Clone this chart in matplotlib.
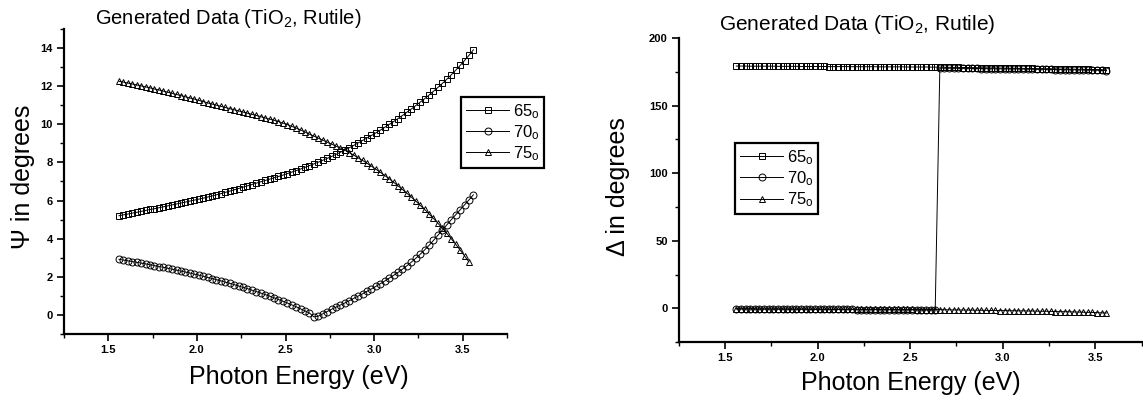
import matplotlib
matplotlib.use("Agg")
import matplotlib.pyplot as plt
from matplotlib.ticker import MultipleLocator

plt.rcParams['font.family'] = ['Liberation Sans', 'DejaVu Sans']
plt.rcParams['mathtext.fontset'] = 'custom'
plt.rcParams['mathtext.rm'] = 'Liberation Sans'
plt.rcParams['mathtext.it'] = 'Liberation Sans:italic'

# photon energy grid (eV)
energy = [1.560, 1.585, 1.610, 1.635, 1.660, 1.685, 1.710, 1.735, 1.760, 1.785,
          1.810, 1.835, 1.860, 1.885, 1.910, 1.935, 1.960, 1.985, 2.010, 2.035,
          2.060, 2.085, 2.110, 2.135, 2.160, 2.185, 2.210, 2.235, 2.260, 2.285,
          2.310, 2.335, 2.360, 2.385, 2.410, 2.435, 2.460, 2.485, 2.510, 2.535,
          2.560, 2.585, 2.610, 2.635, 2.660, 2.685, 2.710, 2.735, 2.760, 2.785,
          2.810, 2.835, 2.860, 2.885, 2.910, 2.935, 2.960, 2.985, 3.010, 3.035,
          3.060, 3.085, 3.110, 3.135, 3.160, 3.185, 3.210, 3.235, 3.260, 3.285,
          3.310, 3.335, 3.360, 3.385, 3.410, 3.435, 3.460, 3.485, 3.510, 3.535,
          3.560]

psi65 = [5.20, 5.25, 5.29, 5.34, 5.38, 5.43, 5.48, 5.53, 5.57, 5.62,
         5.67, 5.72, 5.77, 5.82, 5.87, 5.92, 5.97, 6.02, 6.07, 6.12,
         6.18, 6.24, 6.30, 6.36, 6.43, 6.49, 6.56, 6.63, 6.70, 6.77,
         6.84, 6.91, 6.98, 7.05, 7.12, 7.19, 7.26, 7.33, 7.41, 7.49,
         7.57, 7.65, 7.74, 7.83, 7.92, 8.01, 8.11, 8.21, 8.31, 8.42,
         8.53, 8.65, 8.77, 8.89, 9.02, 9.15, 9.28, 9.41, 9.55, 9.69,
         9.84, 9.99, 10.14, 10.30, 10.46, 10.63, 10.80, 10.98, 11.16, 11.34,
         11.53, 11.73, 11.93, 12.14, 12.36, 12.59, 12.83, 13.08, 13.34, 13.61,
         13.90]

psi70 = [2.92, 2.88, 2.84, 2.80, 2.76, 2.72, 2.68, 2.63, 2.59, 2.54,
         2.50, 2.45, 2.40, 2.35, 2.30, 2.25, 2.20, 2.14, 2.09, 2.03,
         1.97, 1.91, 1.85, 1.79, 1.72, 1.66, 1.59, 1.52, 1.45, 1.38,
         1.30, 1.23, 1.15, 1.07, 0.99, 0.90, 0.81, 0.72, 0.63, 0.53,
         0.43, 0.32, 0.21, 0.10, -0.10, -0.06, 0.06, 0.18, 0.30, 0.41,
         0.52, 0.63, 0.75, 0.87, 0.99, 1.11, 1.24, 1.37, 1.50, 1.64,
         1.78, 1.93, 2.08, 2.23, 2.40, 2.58, 2.77, 2.97, 3.18, 3.41,
         3.65, 3.91, 4.18, 4.45, 4.72, 4.99, 5.25, 5.51, 5.77, 6.03,
         6.30]

psi75 = [12.25, 12.21, 12.16, 12.11, 12.06, 12.01, 11.96, 11.91, 11.85, 11.80,
         11.74, 11.68, 11.62, 11.56, 11.50, 11.44, 11.38, 11.32, 11.25, 11.19,
         11.12, 11.06, 11.00, 10.94, 10.88, 10.82, 10.76, 10.70, 10.64, 10.58,
         10.52, 10.46, 10.40, 10.33, 10.27, 10.21, 10.14, 10.06, 9.98, 9.89,
         9.80, 9.70, 9.59, 9.48, 9.38, 9.27, 9.17, 9.06, 8.96, 8.85,
         8.75, 8.64, 8.51, 8.38, 8.24, 8.10, 7.95, 7.80, 7.64, 7.48,
         7.31, 7.14, 6.96, 6.77, 6.58, 6.38, 6.18, 5.97, 5.75, 5.53,
         5.30, 5.06, 4.81, 4.55, 4.28, 4.00, 3.71, 3.41, 3.10, 2.78]

delta65 = [179.3, 179.3, 179.3, 179.2, 179.2, 179.2, 179.2, 179.2, 179.2, 179.1,
           179.1, 179.1, 179.1, 179.1, 179.0, 179.0, 179.0, 179.0, 179.0, 179.0,
           178.9, 178.9, 178.9, 178.9, 178.9, 178.8, 178.8, 178.8, 178.8, 178.8,
           178.8, 178.7, 178.7, 178.7, 178.7, 178.7, 178.7, 178.6, 178.6, 178.6,
           178.6, 178.6, 178.5, 178.5, 178.5,
           178.4, 178.4, 178.3, 178.3, 178.2, 178.2, 178.1, 178.1, 178.0, 178.0,
           177.9, 177.9, 177.8, 177.8, 177.7, 177.7, 177.6, 177.6, 177.5, 177.5,
           177.4, 177.4, 177.3, 177.3, 177.2, 177.1, 177.1, 177.0, 177.0, 176.9,
           176.9, 176.8, 176.7, 176.7, 176.6, 176.5]

delta70 = [-0.5, -0.5, -0.5, -0.5, -0.6, -0.6, -0.6, -0.6, -0.6, -0.6,
           -0.7, -0.7, -0.7, -0.7, -0.7, -0.7, -0.8, -0.8, -0.8, -0.8,
           -0.8, -0.9, -0.9, -0.9, -0.9, -0.9, -1.0, -1.0, -1.0, -1.0,
           -1.0, -1.1, -1.1, -1.1, -1.1, -1.1, -1.2, -1.2, -1.2, -1.2,
           -1.3, -1.3, -1.3, -1.3,
           177.8, 177.8, 177.7, 177.7, 177.6, 177.6, 177.6, 177.5, 177.5, 177.4,
           177.4, 177.4, 177.3, 177.3, 177.2, 177.2, 177.2, 177.1, 177.1, 177.0,
           177.0, 176.9, 176.9, 176.8, 176.8, 176.7, 176.7, 176.6, 176.6, 176.5,
           176.5, 176.4, 176.3, 176.3, 176.2, 176.1, 176.0]

delta75 = [-0.4, -0.4, -0.4, -0.4, -0.4, -0.5, -0.5, -0.5, -0.5, -0.5,
           -0.5, -0.5, -0.6, -0.6, -0.6, -0.6, -0.6, -0.6, -0.6, -0.7,
           -0.7, -0.7, -0.7, -0.7, -0.7, -0.7, -0.8, -0.8, -0.8, -0.8,
           -0.8, -0.8, -0.8, -0.9, -0.9, -0.9, -0.9, -0.9, -0.9, -1.0,
           -1.0, -1.0, -1.0, -1.0, -1.0,
           -1.1, -1.1, -1.2, -1.2, -1.3, -1.3, -1.4, -1.4, -1.5, -1.5,
           -1.6, -1.6, -1.7, -1.7, -1.8, -1.8, -1.9, -1.9, -2.0, -2.0,
           -2.1, -2.2, -2.2, -2.3, -2.4, -2.5, -2.5, -2.6, -2.7, -2.8,
           -2.9, -3.0, -3.1, -3.2, -3.4, -3.5]

labels = [r'65$_{\mathrm{o}}$', r'70$_{\mathrm{o}}$', r'75$_{\mathrm{o}}$']
markers = ['s', 'o', '^']

fig = plt.figure(figsize=(11.43, 4.01), dpi=100)
ax1 = fig.add_axes([0.056, 0.167, 0.3876, 0.761])
ax2 = fig.add_axes([0.594, 0.147, 0.4047, 0.758])


def style(ax):
    for s in ['top', 'right']:
        ax.spines[s].set_visible(False)
    for s in ['left', 'bottom']:
        ax.spines[s].set_linewidth(1.6)
    ax.tick_params(which='major', direction='out', length=5, width=1.2,
                   labelsize=8, pad=3)
    ax.tick_params(which='minor', direction='out', length=3, width=1.0)
    for t in ax.get_xticklabels() + ax.get_yticklabels():
        t.set_fontweight('bold')
    ax.xaxis.set_major_locator(MultipleLocator(0.5))
    ax.xaxis.set_minor_locator(MultipleLocator(0.25))
    ax.set_xlim(1.25, 3.75)


def add_legend(ax, anchor):
    leg = ax.legend(loc='upper left', bbox_to_anchor=anchor,
                    borderaxespad=0, fontsize=12, handlelength=2.6,
                    handletextpad=0.2, labelspacing=0.15, borderpad=0.3,
                    fancybox=False, framealpha=1, edgecolor='black')
    leg.get_frame().set_linewidth(1.6)


# left: Psi
for ys, m, lab in zip([psi65, psi70, psi75], markers, labels):
    ax1.plot(energy[:len(ys)], ys, color='black', lw=0.7, marker=m, ms=5,
             mfc='none', mec='black', mew=0.7, label=lab)
ax1.set_ylim(-1, 15)
ax1.yaxis.set_major_locator(MultipleLocator(2))
ax1.yaxis.set_minor_locator(MultipleLocator(1))
style(ax1)
add_legend(ax1, (0.896, 0.777))

# right: Delta
for ys, m, lab in zip([delta65, delta70, delta75], markers, labels):
    ax2.plot(energy[:len(ys)], ys, color='black', lw=0.7, marker=m, ms=5,
             mfc='none', mec='black', mew=0.7, label=lab)
ax2.set_ylim(-25, 200)
ax2.yaxis.set_major_locator(MultipleLocator(50))
ax2.yaxis.set_minor_locator(MultipleLocator(25))
style(ax2)
add_legend(ax2, (0.121, 0.655))

# titles and axis labels
fig.text(0.2, 0.955, r'Generated Data (TiO$_2$, Rutile)', ha='center',
         va='center', fontsize=14.5)
fig.text(0.75, 0.938, r'Generated Data (TiO$_2$, Rutile)', ha='center',
         va='center', fontsize=15)
fig.text(0.261, 0.06, 'Photon Energy (eV)', ha='center', va='center',
         fontsize=18)
fig.text(0.797, 0.045, 'Photon Energy (eV)', ha='center', va='center',
         fontsize=18)
fig.text(0.02, 0.559, 'Ψ in degrees', ha='center', va='center',
         rotation=90, fontsize=18)
fig.text(0.541, 0.534, 'Δ in degrees', ha='center', va='center',
         rotation=90, fontsize=18)

fig.savefig('out.png', dpi=100)
